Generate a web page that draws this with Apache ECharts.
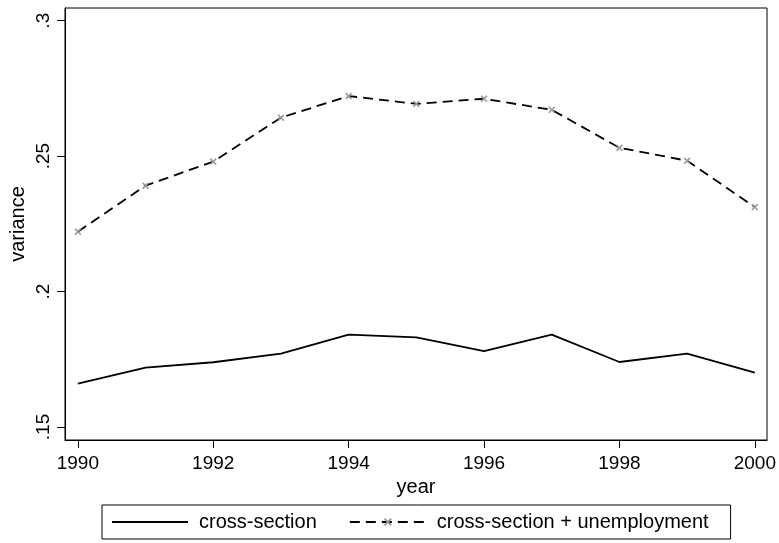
<!DOCTYPE html>
<html>
<head>
<meta charset="utf-8">
<script src="https://cdn.jsdelivr.net/npm/echarts@6/dist/echarts.min.js"></script>
<style>
html,body{margin:0;padding:0;background:#fff;}
#chart{width:779px;height:543px;}
</style>
</head>
<body>
<div id="chart"></div>
<script>
const years = [1990, 1991, 1992, 1993, 1994, 1995, 1996, 1997, 1998, 1999, 2000];
const crossSection = [0.1660, 0.1719, 0.1739, 0.1771, 0.1841, 0.1831, 0.1780, 0.1841, 0.1740, 0.1771, 0.1701];
const crossSectionUnemp = [0.2221, 0.2391, 0.2480, 0.2642, 0.2722, 0.2693, 0.2712, 0.2671, 0.2531, 0.2483, 0.2312];
const xTicks = [1990, 1992, 1994, 1996, 1998, 2000];
const yTicks = [0.15, 0.2, 0.25, 0.3];
const seriesNames = ['cross-section', 'cross-section + unemployment'];

const FONT = 'Liberation Sans';
const xMark = 'path://M0,1.6L1.6,0L5,3.4L8.4,0L10,1.6L6.6,5L10,8.4L8.4,10L5,6.6L1.6,10L0,8.4L3.4,5Z';

function fmtY(v) {
  return v.toFixed(2).replace(/^0/, '').replace(/0+$/, '');
}

const chart = echarts.init(document.getElementById('chart'), null, {renderer: 'canvas'});
chart.setOption({
  animation: false,
  backgroundColor: '#fff',
  textStyle: {fontFamily: FONT},
  grid: {
    left: 65, top: 8, right: 12, bottom: 103,
    show: true, borderColor: '#000', borderWidth: 1,
    outerBoundsMode: 'none'
  },
  xAxis: {
    type: 'value',
    min: 1989.81, max: 2000.18,
    name: 'year', nameLocation: 'middle', nameGap: 37, nameMoveOverlap: false,
    nameTextStyle: {fontFamily: FONT, fontSize: 20, color: '#000'},
    axisLine: {show: true, lineStyle: {color: '#000', width: 1}},
    axisTick: {show: true, length: 8, lineStyle: {color: '#000'}, customValues: xTicks},
    axisLabel: {fontFamily: FONT, fontSize: 19, color: '#000', margin: 14, customValues: xTicks,
      formatter: v => String(v)},
    splitLine: {show: false}
  },
  yAxis: {
    type: 'value',
    min: 0.1452, max: 0.3047,
    name: 'variance', nameLocation: 'middle', nameGap: 37, nameRotate: 90, nameMoveOverlap: false,
    nameTextStyle: {fontFamily: FONT, fontSize: 20, color: '#000'},
    axisLine: {show: true, lineStyle: {color: '#000', width: 1}},
    axisTick: {show: true, length: 8, lineStyle: {color: '#000'}, customValues: yTicks},
    axisLabel: {fontFamily: FONT, fontSize: 19, color: '#000', margin: 12, rotate: 90,
      customValues: yTicks, formatter: fmtY},
    splitLine: {show: false}
  },
  legend: {
    left: 102, top: 505,
    orient: 'horizontal',
    borderColor: '#000', borderWidth: 1,
    padding: [7, 22, 7, 9],
    itemWidth: 76, itemHeight: 10, itemGap: 32,
    textStyle: {fontFamily: FONT, fontSize: 20, color: '#000', padding: [0, 0, 0, 6]},
    data: [
      {name: seriesNames[0], itemStyle: {opacity: 0}},
      {name: seriesNames[1]}
    ]
  },
  series: [
    {
      name: seriesNames[0],
      type: 'line',
      data: years.map((y, i) => [y, crossSection[i]]),
      showSymbol: false,
      symbol: 'none',
      lineStyle: {color: '#000', width: 1.8, type: 'solid'},
      itemStyle: {color: '#000'}
    },
    {
      name: seriesNames[1],
      type: 'line',
      data: years.map((y, i) => [y, crossSectionUnemp[i]]),
      symbol: xMark,
      symbolSize: 7,
      showSymbol: true,
      lineStyle: {color: '#000', width: 1.8, type: [10, 6]},
      itemStyle: {color: '#999'}
    }
  ]
});
</script>
</body>
</html>
